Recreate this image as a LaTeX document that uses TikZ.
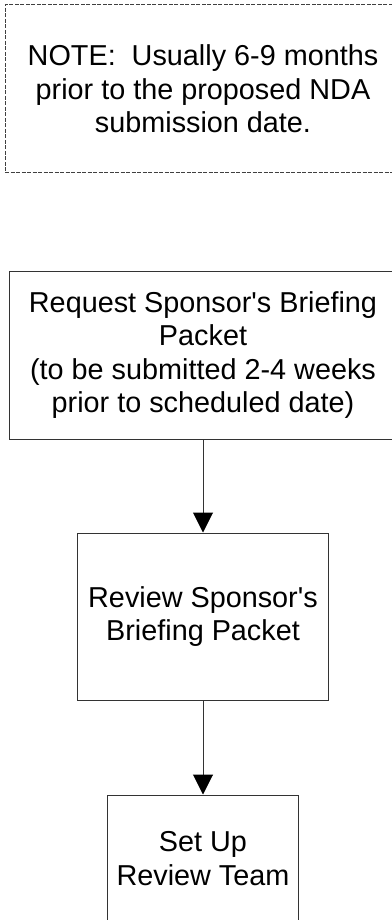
\documentclass[tikz,border=0pt]{standalone}
\usepackage{fontspec}
\setmainfont{Liberation Sans}
\usetikzlibrary{arrows.meta}
\usetikzlibrary{positioning}

\begin{document}
\begin{tikzpicture}[x=1pt, y=1pt, ->, >={Triangle[width=20pt,length=20pt,black]},
    box/.style={draw=black!80, line width=1pt, align=center,
        font=\fontsize{28.8}{33.2}\selectfont, inner sep=4pt},
    notebox/.style={box, draw=black!75, dash pattern=on 4pt off 1.5pt},
    link/.style={draw=black!80, line width=1pt}]

    \useasboundingbox (0,0) rectangle (391,-920);

    % Nodes

    \node[notebox, minimum width=396pt, minimum height=167.6pt] (note) at (203,-88.8)
        {NOTE:~~Usually 6-9 months\\prior to the proposed NDA\\submission date.}; %

    \node[box, minimum width=388pt, minimum height=168pt, below=97.4pt of note] (request)
        {Request Sponsor\textquotesingle s Briefing\\Packet\\(to be submitted 2-4 weeks\\prior to scheduled date)}; %
    \node[box, minimum width=251pt, minimum height=167pt, below=93pt of request] (review)
        {Review Sponsor\textquotesingle s\\Briefing Packet}; %
    \node[box, minimum width=191pt, minimum height=127pt, below=94pt of review] (setup)
        {Set Up\\Review Team}; %

    % Edges

    \draw[link] (request) -- (review);
    \draw[link] (review) -- (setup);

\end{tikzpicture}
\end{document}
